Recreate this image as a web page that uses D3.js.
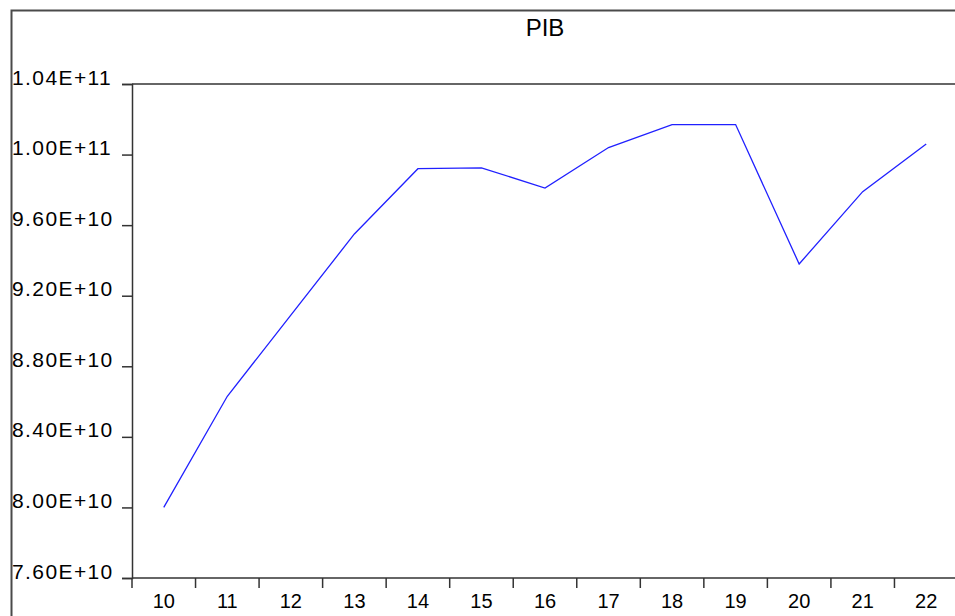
<!DOCTYPE html>
<html>
<head>
<meta charset="utf-8">
<script src="https://cdn.jsdelivr.net/npm/d3@7"></script>
<style>
  html, body { margin: 0; padding: 0; background: #fff; overflow: hidden; }
  svg { display: block; }
  text { font-family: "Liberation Sans", Arial, sans-serif; fill: #000; }
</style>
</head>
<body>
<svg id="chart" width="955" height="616"></svg>
<script>
const title = "PIB";
const categories = ["10","11","12","13","14","15","16","17","18","19","20","21","22"];
const pib = [80.0e9, 86.3e9, 90.9e9, 95.5e9, 99.2e9, 99.25e9, 98.1e9, 100.4e9, 101.7e9, 101.7e9, 93.8e9, 97.9e9, 100.6e9];
const yTickValues = [76e9, 80e9, 84e9, 88e9, 92e9, 96e9, 100e9, 104e9];
const yTickLabels = ["7.60E+10","8.00E+10","8.40E+10","8.80E+10","9.20E+10","9.60E+10","1.00E+11","1.04E+11"];

(function () {
const svg = d3.select("#chart");
const mLeft = 132, mRight = 958, mTop = 84, mBottom = 578;

// outer frame
svg.append("rect")
  .attr("x", 11.5).attr("y", 10.5)
  .attr("width", 980).attr("height", 640)
  .attr("fill", "none").attr("stroke", "#4a4a4a").attr("stroke-width", 2);

// title
svg.append("text")
  .attr("x", 545).attr("y", 36)
  .attr("text-anchor", "middle")
  .style("font-size", "24px")
  .text(title);

const x = d3.scaleBand().domain(categories).range([mLeft, mRight]).padding(0);
const y = d3.scaleLinear().domain([76e9, 104e9]).range([mBottom, mTop]);

// plot frame top line
svg.append("line")
  .attr("x1", mLeft).attr("x2", 960)
  .attr("y1", mTop).attr("y2", mTop)
  .attr("stroke", "#333").attr("stroke-width", 1.5);

// y axis
const yAxis = d3.axisLeft(y)
  .tickValues(yTickValues)
  .tickFormat((d, i) => yTickLabels[i])
  .tickSize(10)
  .tickPadding(10);
const gy = svg.append("g").attr("transform", `translate(${mLeft},0)`).call(yAxis);
gy.select(".domain").attr("stroke", "#333").attr("stroke-width", 1.5);
gy.selectAll(".tick line").attr("stroke", "#333").attr("stroke-width", 1.5);
gy.selectAll(".tick text")
  .attr("dy", "0")
  .attr("x", -120)
  .attr("text-anchor", "start")
  .style("font-size", "21px")
  .style("letter-spacing", "1.4px")
  .style("font-family", "'Liberation Sans', Arial, sans-serif");

// x axis (labels at centers, ticks at boundaries)
const xAxis = d3.axisBottom(x).tickSize(0).tickPadding(15);
const gx = svg.append("g").attr("transform", `translate(0,${mBottom})`).call(xAxis);
gx.select(".domain").remove();
gx.selectAll(".tick text")
  .attr("dy", "0").attr("y", 30)
  .style("font-size", "20px")
  .style("font-family", "'Liberation Sans', Arial, sans-serif");

svg.append("line")
  .attr("x1", mLeft).attr("x2", 960)
  .attr("y1", mBottom).attr("y2", mBottom)
  .attr("stroke", "#333").attr("stroke-width", 1.5);

const boundaries = categories.map(c => x(c)).concat([x(categories[categories.length - 1]) + x.bandwidth()]);
svg.append("g").selectAll("line").data(boundaries).join("line")
  .attr("x1", d => d).attr("x2", d => d)
  .attr("y1", mBottom).attr("y2", mBottom + 10)
  .attr("stroke", "#333").attr("stroke-width", 1.5);

// series line
const line = d3.line()
  .x((d, i) => x(categories[i]) + x.bandwidth() / 2)
  .y(d => y(d));
svg.append("path")
  .datum(pib)
  .attr("d", line)
  .attr("fill", "none")
  .attr("stroke", "#2020ff")
  .attr("stroke-width", 1.3);
})();
</script>
</body>
</html>
